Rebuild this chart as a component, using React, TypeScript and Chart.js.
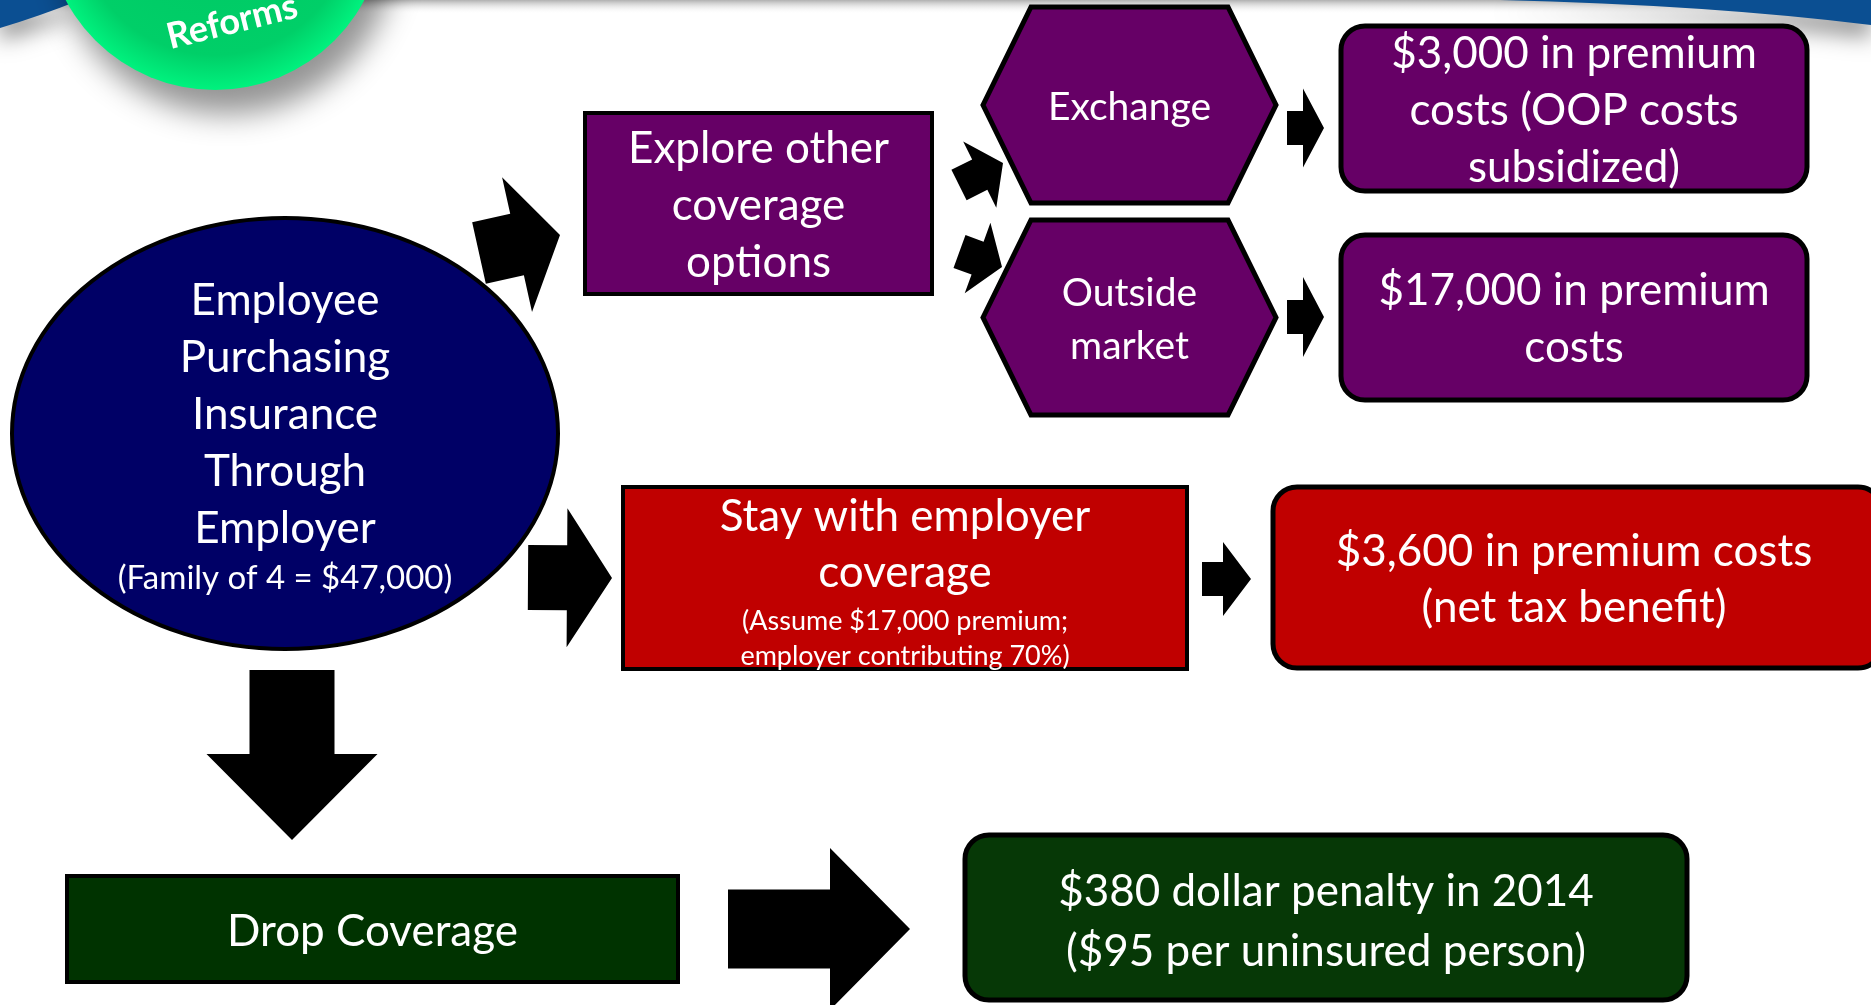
import { useEffect, useRef } from "react";
import { Chart, registerables } from "chart.js";

Chart.register(...registerables);

const X_MAX = 1871;
const Y_MAX = 1005;
const FONT = "Lato, 'Open Sans', sans-serif";

// ---- diagram nodes ----
const nodeMainText: string[][] = [
  ["Employee", "Purchasing", "Insurance", "Through", "Employer"],
  ["Explore other", "coverage", "options"],
  ["Exchange"],
  ["Outside", "market"],
  ["$3,000 in premium", "costs (OOP costs", "subsidized)"],
  ["$17,000 in premium", "costs"],
  ["Stay with employer", "coverage"],
  ["$3,600 in premium costs", "(net tax benefit)"],
  ["Drop Coverage"],
  ["$380 dollar penalty in 2014", "($95 per uninsured person)"],
];
const nodeNoteText: string[][] = [
  ["(Family of 4 = $47,000)"],
  [],
  [],
  [],
  [],
  [],
  ["(Assume $17,000 premium;", "employer contributing 70%)"],
  [],
  [],
  [],
];
const nodeShape = ["ellipse", "rect", "hexagon", "hexagon", "rounded", "rounded", "rect", "rounded", "rect", "rounded"];
const nodeLeft = [12, 585, 983, 983, 1341, 1341, 623, 1273, 67, 965];
const nodeTop = [218, 113, 7, 220, 26, 235, 487, 487, 876, 835];
const nodeRight = [558, 932, 1276, 1276, 1807, 1807, 1187, 1882, 678, 1687];
const nodeBottom = [649, 294, 203, 415, 191, 400, 669, 668, 982, 1000];
const nodeFill = ["#000066", "#660066", "#660066", "#660066", "#660066", "#660066", "#c00000", "#c00000", "#003300", "#063806"];
const nodeMainSize = [44, 44, 39, 39, 44, 44, 44, 44, 44, 44];
const nodeLineGap = [57, 57, 57, 53, 57, 57, 56, 56, 57, 60];
const nodeNoteSize = [33, 0, 0, 0, 0, 0, 27, 0, 0, 0];
const nodeTextShift = [6, 2, 2, 2, 2, 2, 8.5, 2, 3, 4];

// ---- block arrows ----
const arrowTailX = [479, 528, 959, 959.5, 1287, 1287, 1202, 292, 728];
const arrowTailY = [253, 577.5, 185, 251.5, 128, 317, 579, 670, 929];
const arrowTipX = [560, 612, 1003, 1002, 1324, 1324, 1251, 292, 910];
const arrowTipY = [235, 578, 163, 267, 128, 317, 579, 840, 929];
const arrowShaftHalf = [31.5, 32.5, 17, 17.5, 17, 17, 17, 42.5, 39.5];
const arrowHeadHalf = [69, 69.5, 37, 37.5, 39.5, 40, 37, 85.5, 81];
const arrowHeadLen = [44, 45, 26, 26, 21, 21, 28, 86, 80];

// ---- header badge ----
const badgeText = "Reforms";

const diagramPlugin = {
  id: "diagram",
  beforeDatasetsDraw(chart: any) {
    const ctx: CanvasRenderingContext2D = chart.ctx;
    const xs = chart.scales.x;
    const ys = chart.scales.y;
    const px = (v: number) => xs.getPixelForValue(v);
    const py = (v: number) => ys.getPixelForValue(v);

    ctx.save();
    ctx.fillStyle = "#ffffff";
    ctx.fillRect(px(0), py(0), px(X_MAX) - px(0), py(Y_MAX) - py(0));

    // top gray band
    const g = ctx.createLinearGradient(0, py(0), 0, py(14));
    g.addColorStop(0, "rgba(150,150,150,0.75)");
    g.addColorStop(1, "rgba(255,255,255,0)");
    ctx.fillStyle = g;
    ctx.fillRect(px(0), py(0), px(X_MAX) - px(0), py(14) - py(0));

    // blue swooshes with shadow
    ctx.save();
    ctx.shadowColor = "rgba(0,0,0,0.45)";
    ctx.shadowBlur = 22;
    ctx.shadowOffsetY = 12;
    ctx.fillStyle = "#0b4f92";
    ctx.beginPath();
    ctx.moveTo(px(0), py(0));
    ctx.lineTo(px(80), py(0));
    ctx.quadraticCurveTo(px(40), py(16), px(0), py(28));
    ctx.closePath();
    ctx.fill();
    ctx.beginPath();
    ctx.moveTo(px(1500), py(0));
    ctx.quadraticCurveTo(px(1710), py(5), px(X_MAX), py(25));
    ctx.lineTo(px(X_MAX), py(0));
    ctx.closePath();
    ctx.fill();
    ctx.restore();

    // green badge
    const bx = px(215), by = py(-79), br = 169;
    ctx.save();
    ctx.shadowColor = "rgba(0,0,0,0.42)";
    ctx.shadowBlur = 30;
    ctx.shadowOffsetX = 12;
    ctx.shadowOffsetY = 24;
    const rg = ctx.createRadialGradient(bx, by - 20, 30, bx, by, br);
    rg.addColorStop(0, "#00c864");
    rg.addColorStop(0.78, "#00cf68");
    rg.addColorStop(1, "#00f27e");
    ctx.fillStyle = rg;
    ctx.beginPath();
    ctx.arc(bx, by, br, 0, Math.PI * 2);
    ctx.fill();
    ctx.restore();
    ctx.save();
    ctx.translate(px(235), py(33));
    ctx.rotate((-14 * Math.PI) / 180);
    ctx.fillStyle = "#ffffff";
    ctx.font = `bold 36px ${FONT}`;
    ctx.textAlign = "center";
    ctx.textBaseline = "alphabetic";
    ctx.fillText(badgeText, 0, 0);
    ctx.restore();

    // nodes
    for (let i = 0; i < nodeShape.length; i++) {
      const l = px(nodeLeft[i]), r = px(nodeRight[i]);
      const t = py(nodeTop[i]), b = py(nodeBottom[i]);
      const cx = (l + r) / 2, cy = (t + b) / 2;
      ctx.beginPath();
      if (nodeShape[i] === "ellipse") {
        ctx.ellipse(cx, cy, (r - l) / 2, (b - t) / 2, 0, 0, Math.PI * 2);
        ctx.lineWidth = 4;
      } else if (nodeShape[i] === "rect") {
        ctx.rect(l, t, r - l, b - t);
        ctx.lineWidth = 4;
      } else if (nodeShape[i] === "hexagon") {
        const ins = 48;
        ctx.moveTo(l, cy);
        ctx.lineTo(l + ins, t);
        ctx.lineTo(r - ins, t);
        ctx.lineTo(r, cy);
        ctx.lineTo(r - ins, b);
        ctx.lineTo(l + ins, b);
        ctx.closePath();
        ctx.lineWidth = 5;
      } else {
        const rad = 24;
        ctx.moveTo(l + rad, t);
        ctx.lineTo(r - rad, t);
        ctx.arcTo(r, t, r, t + rad, rad);
        ctx.lineTo(r, b - rad);
        ctx.arcTo(r, b, r - rad, b, rad);
        ctx.lineTo(l + rad, b);
        ctx.arcTo(l, b, l, b - rad, rad);
        ctx.lineTo(l, t + rad);
        ctx.arcTo(l, t, l + rad, t, rad);
        ctx.closePath();
        ctx.lineWidth = 5;
      }
      ctx.fillStyle = nodeFill[i];
      ctx.fill();
      ctx.strokeStyle = "#000000";
      ctx.lineJoin = "miter";
      ctx.stroke();

      // text
      const main = nodeMainText[i];
      const notes = nodeNoteText[i];
      const gap = nodeLineGap[i];
      const lines: { text: string; y: number; size: number }[] = [];
      let y = 0;
      main.forEach((tx, k) => {
        if (k > 0) y += gap;
        lines.push({ text: tx, y, size: nodeMainSize[i] });
      });
      notes.forEach((tx, k) => {
        y += k === 0 ? 49 : 35;
        lines.push({ text: tx, y, size: nodeNoteSize[i] });
      });
      const first = lines[0].y;
      const last = lines[lines.length - 1].y;
      const off = cy + nodeTextShift[i] - (first + last) / 2;
      ctx.fillStyle = "#ffffff";
      ctx.textAlign = "center";
      ctx.textBaseline = "middle";
      const tcx = i === 7 ? px(1574) : cx;
      for (const ln of lines) {
        ctx.font = `${ln.size}px ${FONT}`;
        ctx.fillText(ln.text, tcx, ln.y + off);
      }
    }

    // arrows
    ctx.fillStyle = "#000000";
    for (let i = 0; i < arrowTailX.length; i++) {
      const x0 = px(arrowTailX[i]), y0 = py(arrowTailY[i]);
      const x1 = px(arrowTipX[i]), y1 = py(arrowTipY[i]);
      const len = Math.hypot(x1 - x0, y1 - y0);
      const dx = (x1 - x0) / len, dy = (y1 - y0) / len;
      const nx = -dy, ny = dx;
      const sw = arrowShaftHalf[i], hw = arrowHeadHalf[i], hl = arrowHeadLen[i];
      const mx = x1 - dx * hl, my = y1 - dy * hl;
      ctx.beginPath();
      ctx.moveTo(x0 + nx * sw, y0 + ny * sw);
      ctx.lineTo(mx + nx * sw, my + ny * sw);
      ctx.lineTo(mx + nx * hw, my + ny * hw);
      ctx.lineTo(x1, y1);
      ctx.lineTo(mx - nx * hw, my - ny * hw);
      ctx.lineTo(mx - nx * sw, my - ny * sw);
      ctx.lineTo(x0 - nx * sw, y0 - ny * sw);
      ctx.closePath();
      ctx.fill();
    }
    ctx.restore();
  },
};

export default function App() {
  const ref = useRef<HTMLCanvasElement | null>(null);
  useEffect(() => {
    if (!ref.current) return;
    const chart = new Chart(ref.current, {
      type: "scatter",
      data: {
        datasets: [
          {
            data: nodeShape.map((_, i) => ({
              x: (nodeLeft[i] + nodeRight[i]) / 2,
              y: (nodeTop[i] + nodeBottom[i]) / 2,
            })),
            pointRadius: 0,
          },
        ],
      },
      options: {
        animation: false,
        responsive: false,
        maintainAspectRatio: false,
        events: [],
        layout: { padding: 0 },
        plugins: { legend: { display: false }, tooltip: { enabled: false } },
        scales: {
          x: { type: "linear", min: 0, max: X_MAX, display: false },
          y: { type: "linear", min: 0, max: Y_MAX, reverse: true, display: false },
        },
      },
      plugins: [diagramPlugin],
    });
    return () => chart.destroy();
  }, []);
  return (
    <div style={{ position: "fixed", left: 0, top: 0, width: X_MAX, height: Y_MAX, background: "#fff" }}>
      <canvas ref={ref} width={X_MAX} height={Y_MAX} style={{ display: "block", width: X_MAX, height: Y_MAX }} />
    </div>
  );
}
